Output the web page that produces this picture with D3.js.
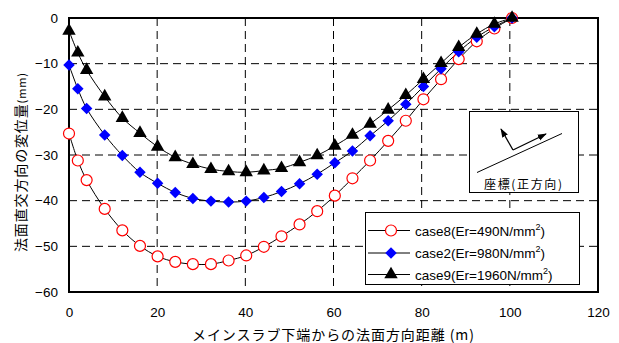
<!DOCTYPE html>
<html>
<head>
<meta charset="utf-8">
<script src="https://cdn.jsdelivr.net/npm/d3@7"></script>
<style>
  body { margin: 0; background: #fff; }
  text { font-family: "Noto Sans CJK JP", "Liberation Sans", sans-serif; }
</style>
</head>
<body>
<div class="canvas"></div>
<script>
// Distance along slope (m)
const distance = [0, 2, 4, 8.1, 12.1, 16.1, 20.1, 24.1, 28.1, 32.2, 36.2, 40.2, 44.2, 48.2,
    52.3, 56.3, 60.3, 64.3, 68.3, 72.4, 76.4, 80.4, 84.4, 88.4, 92.5, 96.5, 100.5];

// Displacement normal to slope (mm)
const case8 = [-25.3, -31.2, -35.5, -41.8, -46.5, -49.9, -52.2, -53.4, -53.9, -53.9, -53.1, -52.0, -50.1, -47.8,
    -45.2, -42.3, -38.9, -35.1, -31.2, -26.9, -22.5, -17.8, -13.4, -9.0, -5.1, -2.3, 0];
const case2 = [-10.3, -15.5, -19.8, -25.6, -30.1, -33.8, -36.2, -38.2, -39.5, -40.1, -40.3, -40.1, -39.3, -38.0,
    -36.3, -34.2, -31.7, -29.1, -25.8, -22.5, -18.9, -15.0, -11.1, -7.4, -4.2, -1.9, 0];
const case9 = [-2.8, -7.6, -11.4, -17.2, -21.9, -25.2, -28.2, -30.5, -32.0, -33.1, -33.6, -33.8, -33.4, -32.9,
    -31.6, -30.1, -28.0, -25.6, -23.2, -20.1, -16.9, -13.4, -9.9, -6.4, -3.5, -1.3, 0];

const xTicks = [0, 20, 40, 60, 80, 100, 120];
const yTicks = [0, -10, -20, -30, -40, -50, -60];

const seriesNames = ['case8', 'case2', 'case9'];
const seriesEr = ['490', '980', '1960'];

const margin = {top: 18, right: 21, bottom: 51, left: 69};
const outerWidth = 619;
const outerHeight = 343;
const graphWidth = outerWidth - margin.left - margin.right;
const graphHeight = outerHeight - margin.top - margin.bottom;

const svg = d3.select('.canvas')
    .append('svg')
    .attr('width', outerWidth)
    .attr('height', outerHeight);

const graph = svg.append('g')
    .attr('transform', `translate(${margin.left}, ${margin.top})`);

const x = d3.scaleLinear().domain([0, 120]).range([0, graphWidth]);
const y = d3.scaleLinear().domain([-60, 0]).range([graphHeight, 0]);

// Grid lines
const grid = graph.append('g').attr('class', 'grid');
grid.selectAll('.vgrid')
    .data(xTicks.slice(1, -1))
    .enter().append('line')
    .attr('x1', d => x(d)).attr('x2', d => x(d))
    .attr('y1', 0).attr('y2', graphHeight)
    .attr('stroke', '#000').attr('stroke-width', 1)
    .attr('stroke-dasharray', '8,5');
grid.selectAll('.hgrid')
    .data(yTicks.slice(1, -1))
    .enter().append('line')
    .attr('x1', 0).attr('x2', graphWidth)
    .attr('y1', d => y(d)).attr('y2', d => y(d))
    .attr('stroke', '#000').attr('stroke-width', 1)
    .attr('stroke-dasharray', '8,5');

// Axes (labels only, ticks hidden)
const xAxis = d3.axisBottom(x).tickValues(xTicks).tickSize(0).tickPadding(15);
const yAxis = d3.axisLeft(y).tickValues(yTicks).tickSize(0).tickPadding(11);

const xAxisGroup = graph.append('g')
    .attr('transform', `translate(0, ${graphHeight})`)
    .call(xAxis);
const yAxisGroup = graph.append('g').call(yAxis);

[xAxisGroup, yAxisGroup].forEach(g => {
    g.select('.domain').remove();
    g.selectAll('text')
        .style('font-family', '"Liberation Sans", sans-serif')
        .style('font-size', '13.5px')
        .attr('fill', '#000');
});

// Plot border
graph.append('rect')
    .attr('x', 0).attr('y', 0)
    .attr('width', graphWidth).attr('height', graphHeight)
    .attr('fill', 'none')
    .attr('stroke', '#000')
    .attr('stroke-width', 2);

// Inset box: coordinate sign convention
const inset = svg.append('g');
inset.append('rect')
    .attr('x', 469.5).attr('y', 111.5)
    .attr('width', 109).attr('height', 81)
    .attr('fill', '#fff').attr('stroke', '#000').attr('stroke-width', 1);
svg.append('defs').append('marker')
    .attr('id', 'arrow')
    .attr('viewBox', '0 0 10 10')
    .attr('refX', 9).attr('refY', 5)
    .attr('markerWidth', 7).attr('markerHeight', 7)
    .attr('orient', 'auto')
    .append('path')
    .attr('d', 'M0,1.5L10,5L0,8.5Z')
    .attr('fill', '#000');
inset.append('line')
    .attr('x1', 477).attr('y1', 172.5).attr('x2', 562).attr('y2', 133.5)
    .attr('stroke', '#000').attr('stroke-width', 1);
inset.append('path')
    .attr('d', 'M513,150L501,129')
    .attr('stroke', '#000').attr('stroke-width', 1.3).attr('fill', 'none')
    .attr('marker-end', 'url(#arrow)');
inset.append('path')
    .attr('d', 'M513,150L546,134')
    .attr('stroke', '#000').attr('stroke-width', 1.3).attr('fill', 'none')
    .attr('marker-end', 'url(#arrow)');
inset.append('text')
    .attr('x', 484).attr('y', 189)
    .attr('textLength', 78)
    .attr('lengthAdjust', 'spacing')
    .style('font-size', '12px')
    .text('座標(正方向)');

// Series
const seriesData = [case8, case2, case9].map(vals => distance.map((d, i) => ({x: d, y: vals[i]})));

const line = d3.line()
    .x(d => x(d.x))
    .y(d => y(d.y))
    .curve(d3.curveCatmullRom.alpha(0.5));

const symbols = [
    {type: d3.symbolCircle, size: 95, fill: '#fff', stroke: '#ff0000', sw: 1.2},
    {type: d3.symbolSquare, size: 66, fill: '#0000ff', stroke: 'none', sw: 0, rotate: 45},
    {type: d3.symbolTriangle, size: 78, fill: '#000', stroke: 'none', sw: 0}
];

const drawSymbol = (sel, s) => {
    sel.append('path')
        .attr('d', d3.symbol().type(s.type).size(s.size))
        .attr('transform', s.rotate ? `rotate(${s.rotate})` : null)
        .attr('fill', s.fill)
        .attr('stroke', s.stroke)
        .attr('stroke-width', s.sw);
};

seriesData.forEach(data => {
    graph.append('path')
        .datum(data)
        .attr('fill', 'none')
        .attr('stroke', '#000')
        .attr('stroke-width', 1)
        .attr('d', line);
});

seriesData.forEach((data, k) => {
    const pts = graph.append('g').selectAll('g')
        .data(data)
        .enter().append('g')
        .attr('transform', d => `translate(${x(d.x)}, ${y(d.y)})`);
    pts.each(function () { drawSymbol(d3.select(this), symbols[k]); });
});

// Legend
const legend = svg.append('g');
legend.append('rect')
    .attr('x', 365.5).attr('y', 212.5)
    .attr('width', 214).attr('height', 72)
    .attr('fill', '#fff').attr('stroke', '#000').attr('stroke-width', 1);
const legendY = [230.5, 253, 274.5];
seriesNames.forEach((name, k) => {
    const row = legend.append('g');
    row.append('line')
        .attr('x1', 368).attr('x2', 410)
        .attr('y1', legendY[k]).attr('y2', legendY[k])
        .attr('stroke', '#000').attr('stroke-width', 1);
    const m = row.append('g').attr('transform', `translate(391, ${legendY[k]})`);
    drawSymbol(m, symbols[k]);
    const t = row.append('text')
        .attr('x', 415).attr('y', legendY[k] + 5)
        .style('font-family', '"Liberation Sans", sans-serif')
        .style('font-size', '13.5px');
    t.append('tspan').text(`${name}(Er=${seriesEr[k]}N/mm`);
    t.append('tspan').attr('dy', -6).style('font-size', '9px').text('2');
    t.append('tspan').attr('dy', 6).text(')');
});

// Axis titles
svg.append('text')
    .attr('transform', 'translate(26, 252) rotate(-90)')
    .attr('textLength', 179)
    .attr('lengthAdjust', 'spacing')
    .style('font-size', '14px')
    .html('法面直交方向の変位量<tspan style="font-size:11px">(mm)</tspan>');

svg.append('text')
    .attr('x', 192).attr('y', 340)
    .attr('textLength', 282)
    .attr('lengthAdjust', 'spacing')
    .style('font-size', '14px')
    .text('メインスラブ下端からの法面方向距離 (m)');
</script>
</body>
</html>
